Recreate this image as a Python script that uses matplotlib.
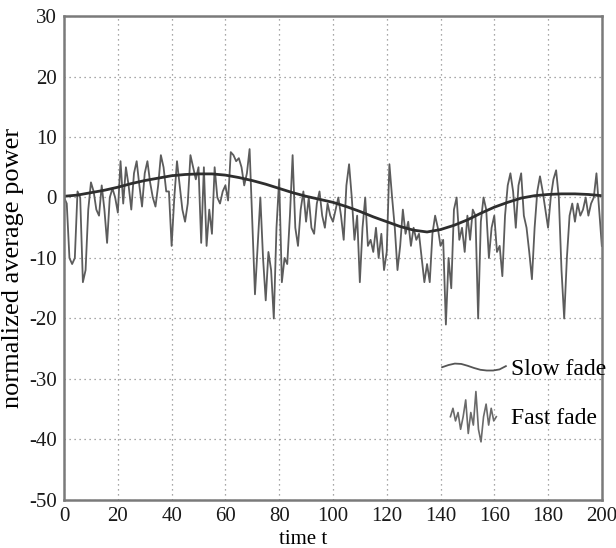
import numpy as np
import matplotlib
matplotlib.use('Agg')
import matplotlib.pyplot as plt
from matplotlib.lines import Line2D
from matplotlib.legend_handler import HandlerBase

plt.rcParams['font.family'] = 'serif'
plt.rcParams['font.serif'] = ['Liberation Serif', 'DejaVu Serif']
plt.rcParams['axes.unicode_minus'] = False

# fast fade, one value per time unit
t_fast = np.arange(0, 201)
fast = [
    0, -1, -10, -11, -10, 1, 0, -14, -12, -2,
    2.5, 1, -2, -3, 2, -2, -7.5, 0, 1.5, 0,
    -2.5, 6, -1, 5, 2, -2, 4, 6, 2, -1.5,
    4, 6, 2.5, 0, -1.5, 2, 7, 5, 1, 1,
    -8, 0, 6, 2, -2, -4, -1, 7, 5, 3,
    5, -7.5, 5, -8, -2, -6, 5, 0, -1, 1,
    2, -0.5, 7.5, 7, 6, 6.5, 5, 2, 4, 8,
    -4, -16, -8, 0, -10, -17, -9, -12, -20, -5,
    3, -14, -10, -11, -3, 7, -5, -8, -2, 1,
    -4, 0, -5, -6, -1, 1, -3, -5, -1, -3,
    -4, -2, 0, -3, -7, 2, 5.5, 0, -7, -3,
    -14, -5, 0, -8, -7, -9, -5, -10, -6, -12,
    -9, 5.5, 0, -5, -12, -8, -2, -6, -4, -8,
    -5, -7, -6, -10, -14, -11, -14, -6, -3, -5,
    -8, -7, -21, -10, -15, -2, 0, -7, -5, -9,
    -3, -7, -2, -3, -20, -4, 0, -2, -10, -5,
    -3, -9, -8, -13, -3, 2, 4, 1, -5, 2,
    4, -3, -5, -9, -13.5, -5, 1, 3.5, 1, -2,
    -5, 0, 3, 4.5, 0, -12, -20, -10, -3, -1,
    -4, -1, -3, -2, 0, -3, -1, 0, 4, -2, -8,
]

# slow fade, every 5 time units
t_slow = np.arange(0, 201, 5)
slow = [0.2, 0.4, 0.8, 1.2, 1.7, 2.3, 2.8, 3.2, 3.6, 3.8, 3.9,
        3.9, 3.7, 3.3, 2.8, 2.2, 1.5, 0.8, 0.2, -0.3, -0.8,
        -1.5, -2.3, -3.2, -4.0, -4.8, -5.4, -5.7, -5.3, -4.6, -3.7,
        -2.6, -1.6, -0.8, -0.1, 0.3, 0.5, 0.6, 0.6, 0.5, 0.3]

# little drawings used as legend keys
key_slow = [0, 0.3, 0.5, 0.45, 0.2, -0.1, -0.35, -0.45, -0.45, -0.3, 0.15]
key_fast = [0, 2, -1, 1, -3, 0, 4, -4, 1, -2, 6, -3, -6, 0, 3, -2, 2, -1, 0]

labels = ['Slow fade', 'Fast fade']


class SnippetHandler(HandlerBase):
    def __init__(self, ys, start, end, amp, **kw):
        super().__init__(**kw)
        self.ys, self.start, self.end, self.amp = ys, start, end, amp

    def create_artists(self, legend, orig_handle, xdescent, ydescent,
                       width, height, fontsize, trans):
        n = len(self.ys)
        xs = -xdescent + width * (self.start + (self.end - self.start) * np.arange(n) / (n - 1))
        ys = -ydescent + height / 2 + np.asarray(self.ys) * height * self.amp
        ln = Line2D(xs, ys, color=orig_handle.get_color(),
                    lw=orig_handle.get_linewidth())
        ln.set_transform(trans)
        return [ln]


fig = plt.figure(figsize=(6.16, 5.48), dpi=100)
ax = fig.add_axes([0.104, 0.0876, 0.873, 0.8832])

h_fast, = ax.plot(t_fast, fast, color='#5c5c5c', lw=1.3)
h_slow, = ax.plot(t_slow, slow, color='#2e2e2e', lw=2.0)

ax.set_xlim(0, 200)
ax.set_ylim(-50, 30)
ax.set_xticks(np.arange(0, 201, 20))
ax.set_yticks(np.arange(-50, 31, 10))
ax.grid(True, color='#8a8a8a', ls=(0, (1, 3)), lw=0.9)
for s in ax.spines.values():
    s.set_color('#7a7a7a')
    s.set_linewidth(1.8)
ax.tick_params(direction='in', length=0, labelsize=15, pad=5, colors='#1a1a1a')

ax.set_xlabel('time t', fontsize=15)
ax.xaxis.set_label_coords(0.445, -0.062)
ax.set_ylabel('normalized average power', fontsize=19)
ax.yaxis.set_label_coords(-0.075, 0.48)

key_s = Line2D([], [], color='#555555', lw=1.3)
key_f = Line2D([], [], color='#6a6a6a', lw=1.2)
ax.legend([key_s, key_f], labels,
          handler_map={key_s: SnippetHandler(key_slow, 0.0, 1.0, 0.2),
                       key_f: SnippetHandler(key_fast, 0.13, 0.85, 0.115)},
          loc='upper left', bbox_to_anchor=(0.703, 0.312), frameon=False,
          fontsize=17, handlelength=2.7, handleheight=2.0, handletextpad=0.2,
          labelspacing=0.55, borderpad=0, borderaxespad=0)

fig.savefig('out.png', dpi=100)
